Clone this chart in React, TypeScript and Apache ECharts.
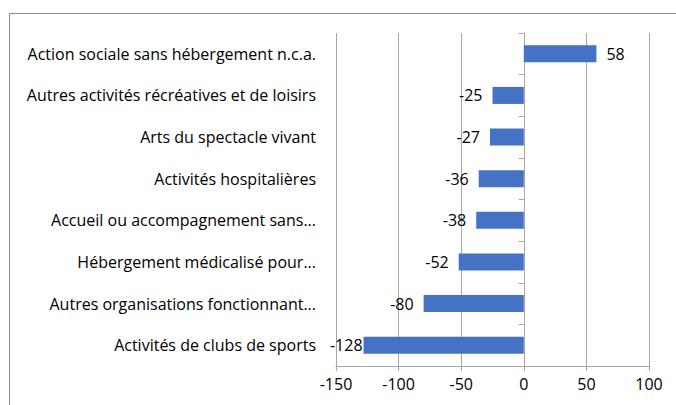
import React, { useEffect, useRef } from "react";
import * as echarts from "echarts";

const categories = [
  "Activités de clubs de sports",
  "Autres organisations fonctionnant...",
  "Hébergement médicalisé pour...",
  "Accueil ou accompagnement sans...",
  "Activités hospitalières",
  "Arts du spectacle vivant",
  "Autres activités récréatives et de loisirs",
  "Action sociale sans hébergement n.c.a.",
];
const values = [-128, -80, -52, -38, -36, -27, -25, 58];
const xMin = -150;
const xMax = 100;
const xInterval = 50;

const FONT = "'Open Sans', 'Liberation Sans', Arial, sans-serif";

export default function App() {
  const ref = useRef<HTMLDivElement>(null);
  useEffect(() => {
    if (!ref.current) return;
    const chart = echarts.init(ref.current, undefined, { renderer: "svg" });
    const data = values.map((v, i) => ({
      value: v,
      label: {
        position: v < 0 ? "left" : "right",
        distance: i === 0 ? 1 : 10,
      },
    }));
    chart.setOption({
      animation: false,
      textStyle: { fontFamily: FONT },
      graphic: [
        {
          type: "rect",
          shape: { x: 9.5, y: 13.5, width: 800, height: 600 },
          style: { fill: "none", stroke: "#8c8c8c", lineWidth: 1 },
          silent: true,
        },
      ],
      grid: { left: 336, right: 27, top: 33, bottom: 39, containLabel: false },
      xAxis: {
        type: "value",
        min: xMin,
        max: xMax,
        interval: xInterval,
        axisLine: { show: true, onZero: false, lineStyle: { color: "#a6a6a6" } },
        axisTick: { show: true, length: 5, lineStyle: { color: "#a6a6a6" } },
        axisLabel: { color: "#000", fontSize: 16, margin: 10, fontFamily: FONT },
        splitLine: { show: true, lineStyle: { color: "#a6a6a6" } },
      },
      yAxis: [
        {
          type: "category",
          data: categories,
          position: "left",
          axisLine: { show: false, onZero: false },
          axisTick: { show: false },
          axisLabel: { color: "#000", fontSize: 16, margin: 20, fontFamily: FONT },
          splitLine: { show: false },
        },
        {
          type: "category",
          data: categories,
          position: "left",
          axisLine: { show: true, onZero: true, lineStyle: { color: "#a6a6a6" } },
          axisTick: { show: true, length: 5, lineStyle: { color: "#a6a6a6" } },
          axisLabel: { show: false },
          splitLine: { show: false },
        },
      ],
      series: [
        {
          type: "bar",
          data,
          yAxisIndex: 0,
          barWidth: 17,
          itemStyle: { color: "#4472C4" },
          label: {
            show: true,
            color: "#000",
            fontSize: 16,
            fontFamily: FONT,
          },
        },
      ],
    });
    return () => chart.dispose();
  }, []);
  return (
    <div
      ref={ref}
      style={{ position: "absolute", left: 0, top: 0, width: 676, height: 405, background: "#fff" }}
    />
  );
}
